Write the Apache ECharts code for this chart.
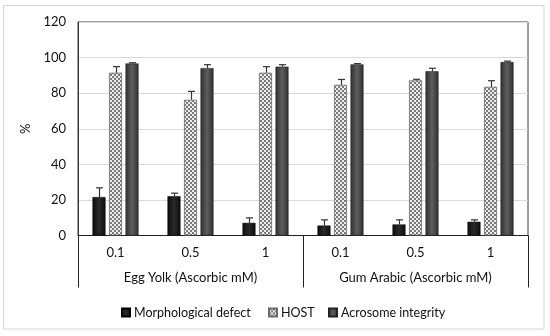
<!DOCTYPE html>
<html>
<head>
<meta charset="utf-8">
<script src="https://cdn.jsdelivr.net/npm/echarts@6/dist/echarts.min.js"></script>
<style>html,body{margin:0;padding:0;background:#fff}#c{width:550px;height:336px}</style>
</head>
<body>
<div id="c"></div>
<script>
var categories = ['0.1', '0.5', '1', '0.1', '0.5', '1'];
var groups = ['Egg Yolk (Ascorbic mM)', 'Gum Arabic (Ascorbic mM)'];
var seriesNames = ['Morphological defect', 'HOST', 'Acrosome integrity'];
var morph = [21.6, 22.1, 7.1, 5.6, 6.2, 7.7];
var morphErr = [5.2, 1.7, 2.8, 3.2, 2.6, 1.1];
var host = [91.5, 76.3, 91.5, 84.7, 87.2, 83.6];
var hostErr = [3.4, 4.7, 3.4, 3.0, 0.6, 3.4];
var acro = [96.7, 94.1, 94.9, 96.2, 92.3, 97.5];
var acroErr = [0.4, 1.9, 1.1, 0.4, 1.7, 0.5];
var yMin = 0, yMax = 120, yStep = 20;

var FONT = 'Lato';
var FS = 13;
var TXT = '#111';
var BAR_W = 13, BAR_GAP = 3.5;

// checker pattern for HOST
var pc = document.createElement('canvas');
pc.width = 4; pc.height = 4;
var px = pc.getContext('2d');
px.fillStyle = '#ececec'; px.fillRect(0, 0, 4, 4);
px.fillStyle = '#7a7a7a';
px.fillRect(0, 0, 2, 2); px.fillRect(2, 2, 2, 2);
var hostPattern = {image: pc, repeat: 'repeat'};

function hGrad(edge, mid) {
  return {type: 'linear', x: 0, y: 0, x2: 1, y2: 0,
    colorStops: [{offset: 0, color: edge}, {offset: 0.5, color: mid}, {offset: 1, color: edge}]};
}

function errSeries(values, errs, idx) {
  var data = values.map(function (v, i) { return [i, v, errs[i]]; });
  var off = (idx - 1) * (BAR_W + BAR_GAP);
  return {
    type: 'custom', xAxisIndex: 0, yAxisIndex: 0, z: 5, silent: true,
    data: data,
    renderItem: function (params, api) {
      var p0 = api.coord([api.value(0), api.value(1)]);
      var p1 = api.coord([api.value(0), api.value(1) + api.value(2)]);
      var x = Math.round(p0[0] + off) + 0.5;
      var st = {stroke: '#333', lineWidth: 1.2};
      return {type: 'group', children: [
        {type: 'line', shape: {x1: x, y1: p0[1], x2: x, y2: p1[1]}, style: st},
        {type: 'line', shape: {x1: x - 3.5, y1: p1[1], x2: x + 3.5, y2: p1[1]}, style: st}
      ]};
    }
  };
}

function legendAt(left, name) {
  return {
    left: left, top: 301, itemWidth: 8, itemHeight: 8, itemGap: 0, icon: 'rect',
    textStyle: {fontFamily: FONT, fontSize: 12.5, color: TXT, padding: [0, 0, 0, -1]},
    data: [name]
  };
}

var chart = echarts.init(document.getElementById('c'));
chart.setOption({
  animation: false,
  backgroundColor: '#fff',
  textStyle: {fontFamily: FONT},
  graphic: [{type: 'rect', shape: {x: 3.5, y: 5.5, width: 540.5, height: 323.5},
    style: {fill: 'none', stroke: '#d4d4d4', lineWidth: 1}, silent: true}],
  grid: {left: 78, right: 22, top: 22, bottom: 100.5, show: true, borderColor: '#3a3a3a', borderWidth: 1},
  legend: [
    legendAt(116, seriesNames[0]),
    legendAt(263, seriesNames[1]),
    legendAt(323, seriesNames[2])
  ],
  xAxis: [{
    type: 'category', data: categories, position: 'bottom',
    axisLine: {lineStyle: {color: '#222'}},
    axisTick: {show: false},
    axisLabel: {margin: 11, fontSize: FS, color: TXT, fontFamily: FONT}
  }, {
    type: 'category', data: groups, position: 'bottom', gridIndex: 0,
    axisLine: {show: false},
    axisTick: {show: true, length: 52, lineStyle: {color: '#222'}},
    axisLabel: {margin: 36, fontSize: FS, color: TXT, fontFamily: FONT}
  }],
  yAxis: {
    type: 'value', min: yMin, max: yMax, interval: yStep,
    name: '%', nameLocation: 'middle', nameGap: 37, nameRotate: 90,
    nameTextStyle: {fontSize: 13, color: TXT, fontFamily: FONT},
    axisLine: {show: true, lineStyle: {color: '#3a3a3a'}},
    axisTick: {show: false},
    axisLabel: {margin: 12, fontSize: FS, color: TXT, fontFamily: FONT},
    splitLine: {lineStyle: {color: '#d9d9d9'}}
  },
  series: [
    {name: seriesNames[0], type: 'bar', data: morph, barWidth: BAR_W, barGap: '27%',
      itemStyle: {color: hGrad('#0c0c0c', '#2a2a2a'), borderColor: '#000', borderWidth: 0.5}},
    {name: seriesNames[1], type: 'bar', data: host, barWidth: BAR_W,
      itemStyle: {color: hostPattern, borderColor: '#6a6a6a', borderWidth: 0.8}},
    {name: seriesNames[2], type: 'bar', data: acro, barWidth: BAR_W,
      itemStyle: {color: hGrad('#2f2f2f', '#5e5e5e'), borderColor: '#222', borderWidth: 0.6}},
    errSeries(morph, morphErr, 0),
    errSeries(host, hostErr, 1),
    errSeries(acro, acroErr, 2)
  ]
});
</script>
</body>
</html>
